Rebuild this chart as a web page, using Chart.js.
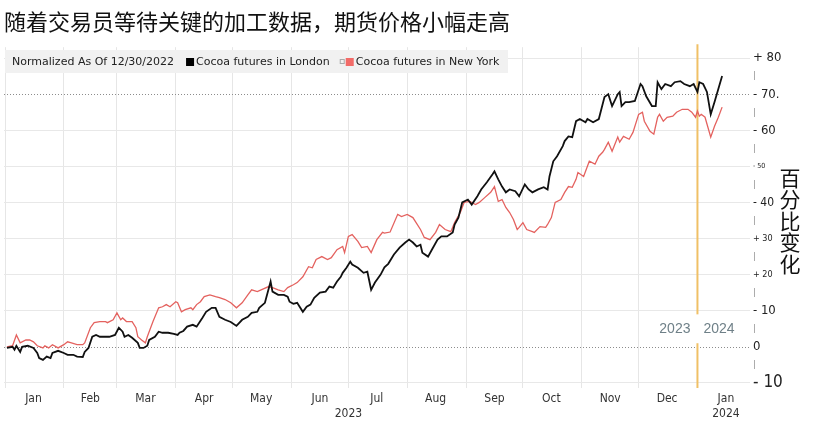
<!DOCTYPE html>
<html><head><meta charset="utf-8">
<script src="https://cdn.jsdelivr.net/npm/chart.js@4.4.0/dist/chart.umd.min.js"></script>
<style>html,body{margin:0;padding:0;background:#fff;}#wrap{width:820px;height:429px;position:relative;}</style>
</head><body><div id="wrap"><canvas id="c" width="820" height="429"></canvas></div>
<script>
const titleText = '随着交易员等待关键的加工数据，期货价格小幅走高';
const axisTitle = '百分比变化';
const legendNote = 'Normalized As Of 12/30/2022';
const seriesNames = ['Cocoa futures in London', 'Cocoa futures in New York'];
const monthLabels = ['Jan','Feb','Mar','Apr','May','Jun','Jul','Aug','Sep','Oct','Nov','Dec','Jan'];
const monthStartDays = [0,31,59,90,120,151,181,212,243,273,304,334,365];
const monthMidDays = [15,45,74,105,135,166,196,227,258,288,319,349,380];
const yearLabels = ['2023','2024'];
const yearBoundaryDay = 365;
const yTickValues = [-10,-5,0,5,10,15,20,25,30,35,40,45,50,55,60,65,70,75,80];
const yTickLabels = ['- 10','|','0','|','- 10','|','+ 20','|','+ 30','|','- 40','|','- 50','|','- 60','|','- 70.','|','+ 80'];

const londonDays = [
1,4,5,6,8,9,12,15,17,18,
20,22,24,25,28,31,33,36,38,41,
42,44,46,48,50,53,55,58,60,62,
63,65,67,70,71,73,75,76,79,81,
83,86,89,91,92,94,96,99,101,104,
106,109,111,113,116,119,122,125,128,130,
133,134,137,140,141,144,147,149,150,152,
154,157,159,161,163,166,169,171,173,175,
177,178,180,182,183,186,189,191,193,195,
198,200,202,205,208,211,213,215,217,219,
220,223,225,228,230,233,236,237,239,241,
244,246,249,251,254,257,258,260,262,264,
266,269,271,274,276,278,281,284,286,287,
289,291,294,295,297,299,301,303,306,307,
310,313,316,318,320,323,324,325,327,329,
332,335,336,338,341,343,344,346,348,351,
353,356,358,361,363,365,366,368,370,372,
374,376,378];
const londonValues = [
-0.3,0,-0.8,0.3,-1.4,0,0.3,-0.3,-1.7,-3.1,
-3.6,-2.7,-3.1,-1.7,-1.1,-1.7,-2.2,-2.2,-2.7,-2.8,
-1.4,-0.3,2.8,3.3,2.8,2.8,2.8,3.3,5.3,4.2,
2.8,3.3,2.5,1.1,-0.3,-0.3,0.3,1.9,2.8,4.2,
3.9,3.9,3.6,3.3,3.9,4.4,5.6,6.1,5.6,8.0,
9.7,10.8,10.8,8.3,7.5,6.9,5.8,7.5,8.3,9.4,
9.7,10.8,12.2,18.1,15.3,14.4,14.4,13.9,12.5,11.9,
12.2,9.7,11.1,11.7,13.6,15.0,15.3,16.7,16.4,18.1,
19.4,20.5,21.9,23.6,22.8,21.9,20.5,20.8,15.8,17.8,
20.0,22.0,23.0,25.6,27.5,28.9,29.7,28.9,27.8,28.3,
26.1,25.0,26.9,29.7,30.6,30.6,31.7,33.9,35.8,40.0,
40.8,39.4,41.7,43.6,45.6,47.8,48.6,46.4,44.4,42.8,
43.6,43.1,41.7,45.0,43.6,42.8,43.6,44.2,43.6,47.2,
51.4,52.8,55.6,57.0,58.3,58.1,62.5,63.1,62.2,63.1,
62.2,63.1,69.2,70.0,66.7,70.0,70.6,66.7,67.8,67.8,
68.1,72.8,72.2,69.4,66.7,66.7,73.3,71.4,72.8,72.2,
73.3,73.6,72.8,72.2,72.8,70.6,73.3,72.8,70.6,64.4,
67.8,71.4,75.0];

const nyDays = [
1,4,6,8,11,13,15,17,20,21,
23,25,28,31,33,35,38,41,42,45,
47,50,53,54,57,59,61,62,64,67,
69,70,72,74,75,78,81,83,85,87,
90,91,93,95,98,99,101,103,105,108,
111,113,116,119,122,125,128,130,133,135,
139,141,144,147,149,152,154,157,160,162,
164,167,170,172,175,178,179,181,183,186,
188,191,193,196,199,200,203,207,209,212,
215,219,221,224,227,229,232,235,237,240,
242,245,248,250,253,256,258,260,262,264,
266,268,270,271,273,275,278,279,282,285,
286,288,290,293,295,297,299,301,302,305,
307,308,311,313,315,316,318,320,323,324,
326,329,331,334,336,337,340,342,344,345,
347,349,352,354,357,360,362,364,365,366,
367,369,372,374,376,378];
const nyValues = [
0,0.3,3.3,1.1,1.9,1.9,1.4,0.3,-0.3,0.3,
-0.3,0.6,-0.3,0.6,1.4,1.1,0.6,0.6,1.1,5.3,
6.7,7.0,7.0,6.7,7.5,9.4,7.5,8.0,7.0,7.0,
5.3,2.8,1.9,1.1,2.8,7.0,10.8,11.1,11.7,11.1,
12.5,12.2,9.7,10.3,10.8,10.3,11.7,12.5,13.9,14.4,
13.9,13.6,13.1,12.2,10.8,12.2,14.4,15.8,15.3,15.8,
16.7,16.4,15.8,15.3,16.4,17.2,17.8,19.4,22.2,21.9,
24.2,25.0,24.2,24.7,26.9,27.8,26.1,30.6,31.1,29.2,
27.5,27.8,26.1,29.7,31.7,31.5,31.8,36.7,36.1,36.7,
35.8,32.5,30.3,29.7,31.7,33.9,32.5,31.9,34.4,37.2,
40.0,40.3,39.4,40.0,41.4,42.8,44.4,40.3,40.8,38.6,
37.2,35.3,32.5,33.1,34.4,32.5,31.9,31.7,33.3,33.1,
33.9,35.8,40.0,40.8,42.8,44.4,44.2,46.4,48.3,47.2,
50.0,51.4,50.6,52.8,53.9,54.7,56.7,54.2,58.1,56.7,
58.3,57.5,59.4,64.4,65.0,62.5,59.7,58.9,63.6,64.4,
62.5,63.6,63.9,65.0,65.8,65.8,65.0,63.6,65.3,63.9,
64.4,63.6,58.1,61.1,63.6,66.4];

const COND = "'DejaVu Sans Condensed','Liberation Sans Narrow','DejaVu Sans',sans-serif";
const CJK = "'Noto Sans CJK SC','Noto Sans',sans-serif";
const toPoints = (d, v) => d.map((x, i) => ({x: x, y: v[i]}));

const overlay = {
  id: 'overlay',
  beforeDatasetsDraw(chart) {
    const {ctx, chartArea: a, scales: {x, y}} = chart;
    ctx.save();
    ctx.strokeStyle = '#8c8c8c'; ctx.lineWidth = 1; ctx.setLineDash([1, 2]);
    [0, 70].forEach(v => {
      const py = Math.round(y.getPixelForValue(v)) + 0.5;
      ctx.beginPath(); ctx.moveTo(a.left, py); ctx.lineTo(a.right, py); ctx.stroke();
    });
    ctx.setLineDash([]);
    const px = x.getPixelForValue(yearBoundaryDay);
    ctx.strokeStyle = '#f0c066'; ctx.lineWidth = 2;
    ctx.beginPath(); ctx.moveTo(px, a.top - 3); ctx.lineTo(px, a.bottom); ctx.stroke();
    ctx.restore();
  },
  afterDraw(chart) {
    const {ctx, scales: {x, y}} = chart;
    ctx.save();
    // legend band
    ctx.fillStyle = '#f1f1f1';
    ctx.fillRect(5, 50, 503, 23);
    ctx.font = "11px 'DejaVu Sans',sans-serif";
    ctx.textBaseline = 'middle'; ctx.textAlign = 'left';
    ctx.fillStyle = '#222';
    let lx = 12; const ly = 62;
    ctx.fillText(legendNote, lx, ly);
    lx += ctx.measureText(legendNote).width + 12;
    ctx.fillStyle = '#000'; ctx.fillRect(lx, ly - 4, 8, 8);
    lx += 10; ctx.fillStyle = '#222'; ctx.fillText(seriesNames[0], lx, ly);
    lx += ctx.measureText(seriesNames[0]).width + 10;
    ctx.strokeStyle = '#aaa'; ctx.lineWidth = 1; ctx.strokeRect(lx + 0.5, ly - 2.5, 4, 4);
    lx += 6; ctx.fillStyle = '#f26b68'; ctx.fillRect(lx, ly - 4, 8, 8);
    lx += 10; ctx.fillStyle = '#222'; ctx.fillText(seriesNames[1], lx, ly);
    // year labels around divider
    const px = x.getPixelForValue(yearBoundaryDay);
    const top = y.getPixelForValue(9), bot = y.getPixelForValue(1);
    ctx.fillStyle = '#ffffff';
    ctx.fillRect(px - 44, top, 88, bot - top);
    ctx.font = "14px 'Liberation Sans',sans-serif";
    ctx.fillStyle = '#6f8088';
    const yy = y.getPixelForValue(5);
    ctx.textAlign = 'right'; ctx.fillText(yearLabels[0], px - 7, yy);
    ctx.textAlign = 'left'; ctx.fillText(yearLabels[1], px + 6, yy);
    // vertical axis title
    ctx.font = "21px " + CJK;
    ctx.fillStyle = '#111'; ctx.textAlign = 'center';
    const chars = Array.from(axisTitle);
    chars.forEach((ch, i) => ctx.fillText(ch, 790, 178 + i * 21.5));
    ctx.restore();
  }
};

const ySizes = {80: 13, 70: 13, 60: 13, 50: 7, 40: 12, 30: 9, 20: 9, 10: 13, 0: 13, '-10': 17};

new Chart(document.getElementById('c'), {
  type: 'line',
  data: {
    datasets: [
      {label: seriesNames[0], data: toPoints(londonDays, londonValues), borderColor: '#111', borderWidth: 1.8, pointRadius: 0, tension: 0},
      {label: seriesNames[1], data: toPoints(nyDays, nyValues), borderColor: '#e4625f', borderWidth: 1.3, pointRadius: 0, tension: 0}
    ]
  },
  options: {
    responsive: false,
    animation: false,
    layout: {padding: {left: 4, right: 0, top: 0, bottom: 0}},
    plugins: {
      legend: {display: false},
      tooltip: {enabled: false},
      title: {display: true, text: titleText, align: 'start', color: '#111',
        font: {family: CJK, size: 22, weight: 'normal'}, padding: {top: 8, bottom: 12.8}}
    },
    scales: {
      x: {
        type: 'linear', min: -0.53, max: 392.7,
        afterBuildTicks: s => {
          s.ticks = monthStartDays.concat(monthMidDays).sort((a, b) => a - b).map(v => ({value: v}));
        },
        afterFit: s => { s.height = 41; },
        grid: {drawTicks: false, color: c => (c.tick && monthStartDays.includes(c.tick.value)) ? '#e6e6e6' : 'rgba(0,0,0,0)'},
        border: {display: false},
        ticks: {
          autoSkip: false, maxRotation: 0, padding: 4, color: '#333',
          font: {family: COND, size: 12},
          callback: v => {
            const mi = monthMidDays.indexOf(v);
            if (mi === monthLabels.length - 1) return [monthLabels[mi], yearLabels[1]];
            if (mi >= 0) return monthLabels[mi];
            if (v === 181) return ['', yearLabels[0]];
            return '';
          }
        }
      },
      y: {
        position: 'right', min: -11.4, max: 83,
        afterBuildTicks: s => { s.ticks = yTickValues.map(v => ({value: v})); },
        afterFit: s => { s.width = 70; },
        grid: {drawTicks: false, color: c => {
          const v = c.tick ? c.tick.value : 1;
          return (v % 10 !== 0 || v === 0 || v === 70) ? 'rgba(0,0,0,0)' : '#e8e8e8';
        }},
        border: {display: false},
        ticks: {
          autoSkip: false, padding: 3,
          color: c => (c.tick && c.tick.value % 10 !== 0) ? '#888' : '#222',
          font: c => ({family: COND, size: (c.tick && ySizes[c.tick.value]) || 9}),
          callback: (v, i) => yTickLabels[yTickValues.indexOf(v)]
        }
      }
    }
  },
  plugins: [overlay]
});
</script></body></html>
